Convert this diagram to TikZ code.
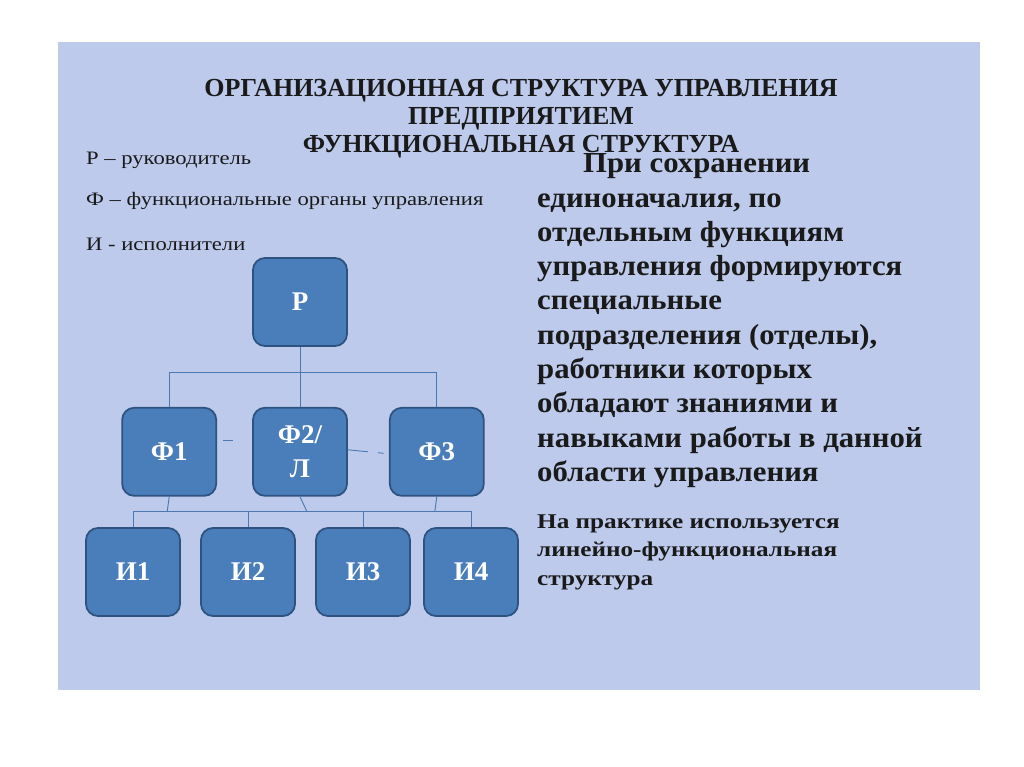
\documentclass[tikz,border=0pt]{standalone}
\usepackage{fontspec}
\setmainfont{Liberation Serif}
\newfontfamily\legendfont[FakeStretch=1.19]{Liberation Serif}
\newfontfamily\bodyfont[FakeStretch=1.06]{Liberation Serif}
\newfontfamily\notefont[FakeStretch=1.2]{Liberation Serif}
\usepackage{xcolor}
\usetikzlibrary{positioning,calc}
\definecolor{slide}{HTML}{BDCAEB}
\definecolor{boxfill}{HTML}{4A7EBB}
\definecolor{boxline}{HTML}{2F5380}
\definecolor{linkc}{HTML}{4A78B2}
\definecolor{ink}{HTML}{1A1A1A}

\begin{document}
\begin{tikzpicture}[
  x=1pt, y=-1pt,
  unit/.style={rounded corners=12pt, draw=boxline, line width=1.8pt, fill=boxfill,
    text=white, align=center, minimum width=94pt, minimum height=88pt,
    font=\fontsize{27}{34}\selectfont\bfseries},
  link/.style={draw=linkc, line width=0.9pt},
  legend/.style={anchor=base west, text=ink, inner sep=0pt, font=\legendfont\fontsize{19}{22}\selectfont},
]
\useasboundingbox (0,0) rectangle (1024,767);
\fill[white] (0,0) rectangle (1024,767);
\fill[slide] (58,42) rectangle (980,690);

% title
\node[text=ink, align=center, font=\fontsize{26}{28}\selectfont\bfseries] (title) at (521,119)
  {ОРГАНИЗАЦИОННАЯ СТРУКТУРА УПРАВЛЕНИЯ\\ПРЕДПРИЯТИЕМ\\ФУНКЦИОНАЛЬНАЯ СТРУКТУРА};

% legend
\node[legend] (lr) at (86,165) {Р – руководитель};
\node[legend] (lf) at (86,206) {Ф – функциональные органы управления};
\node[legend] (li) at (86,250) {И - исполнители};

% units
\node[unit] (r) at (300,302) {Р};
\node[unit, below=60pt of r] (f2) {Ф2/\\Л};
\node[unit, left=35pt of f2] (f1) {Ф1};
\node[unit, right=41pt of f2] (f3) {Ф3};
\node[unit] (i1) at (133,572) {И1};
\node[unit] (i2) at (248,572) {И2};
\node[unit] (i3) at (363,572) {И3};
\node[unit] (i4) at (471,572) {И4};

% connectors
\coordinate (busa) at ($(r.south)+(0,26)$);
\coordinate (busb) at ($(f2.south)+(0,15)$);
\draw[link] (r.south) -- (f2.north);
\draw[link] (f1.north) |- (busa) -| (f3.north);
\draw[link] (i1.north) |- (i4.north |- busb) -- (i4.north);
\draw[link] (i2.north) -- (i2.north |- busb);
\draw[link] (i3.north) -- (i3.north |- busb);
\draw[link] (f1.south) -- ([xshift=-2pt]f1.south |- busb);
\draw[link] (f2.south) -- ([xshift=7pt]f2.south |- busb);
\draw[link] (f3.south) -- ([xshift=-2pt]f3.south |- busb);
\draw[link, dash pattern=on 0pt off 6pt on 10pt off 60pt] ([yshift=11pt]f1.east) -- ([yshift=11pt]f2.west);
\draw[link, dash pattern=on 20pt off 10pt on 6pt off 60pt] ([yshift=2pt]f2.east) -- ([yshift=-2pt]f3.west);

% text
\node[anchor=base west, text=ink, align=left, inner sep=0pt,
  font=\bodyfont\fontsize{29}{34.3}\selectfont\bfseries] (txt) at (537,481.4)
  {\hspace*{46pt}При сохранении\\единоначалия, по\\отдельным функциям\\управления формируются\\специальные\\подразделения (отделы),\\работники которых\\обладают знаниями и\\навыками работы в данной\\области управления};
\node[anchor=base west, text=ink, align=left, inner sep=0pt,
  font=\notefont\fontsize{21}{28.5}\selectfont\bfseries] (note) at (537,585)
  {На практике используется\\линейно-функциональная\\структура};
\end{tikzpicture}
\end{document}
